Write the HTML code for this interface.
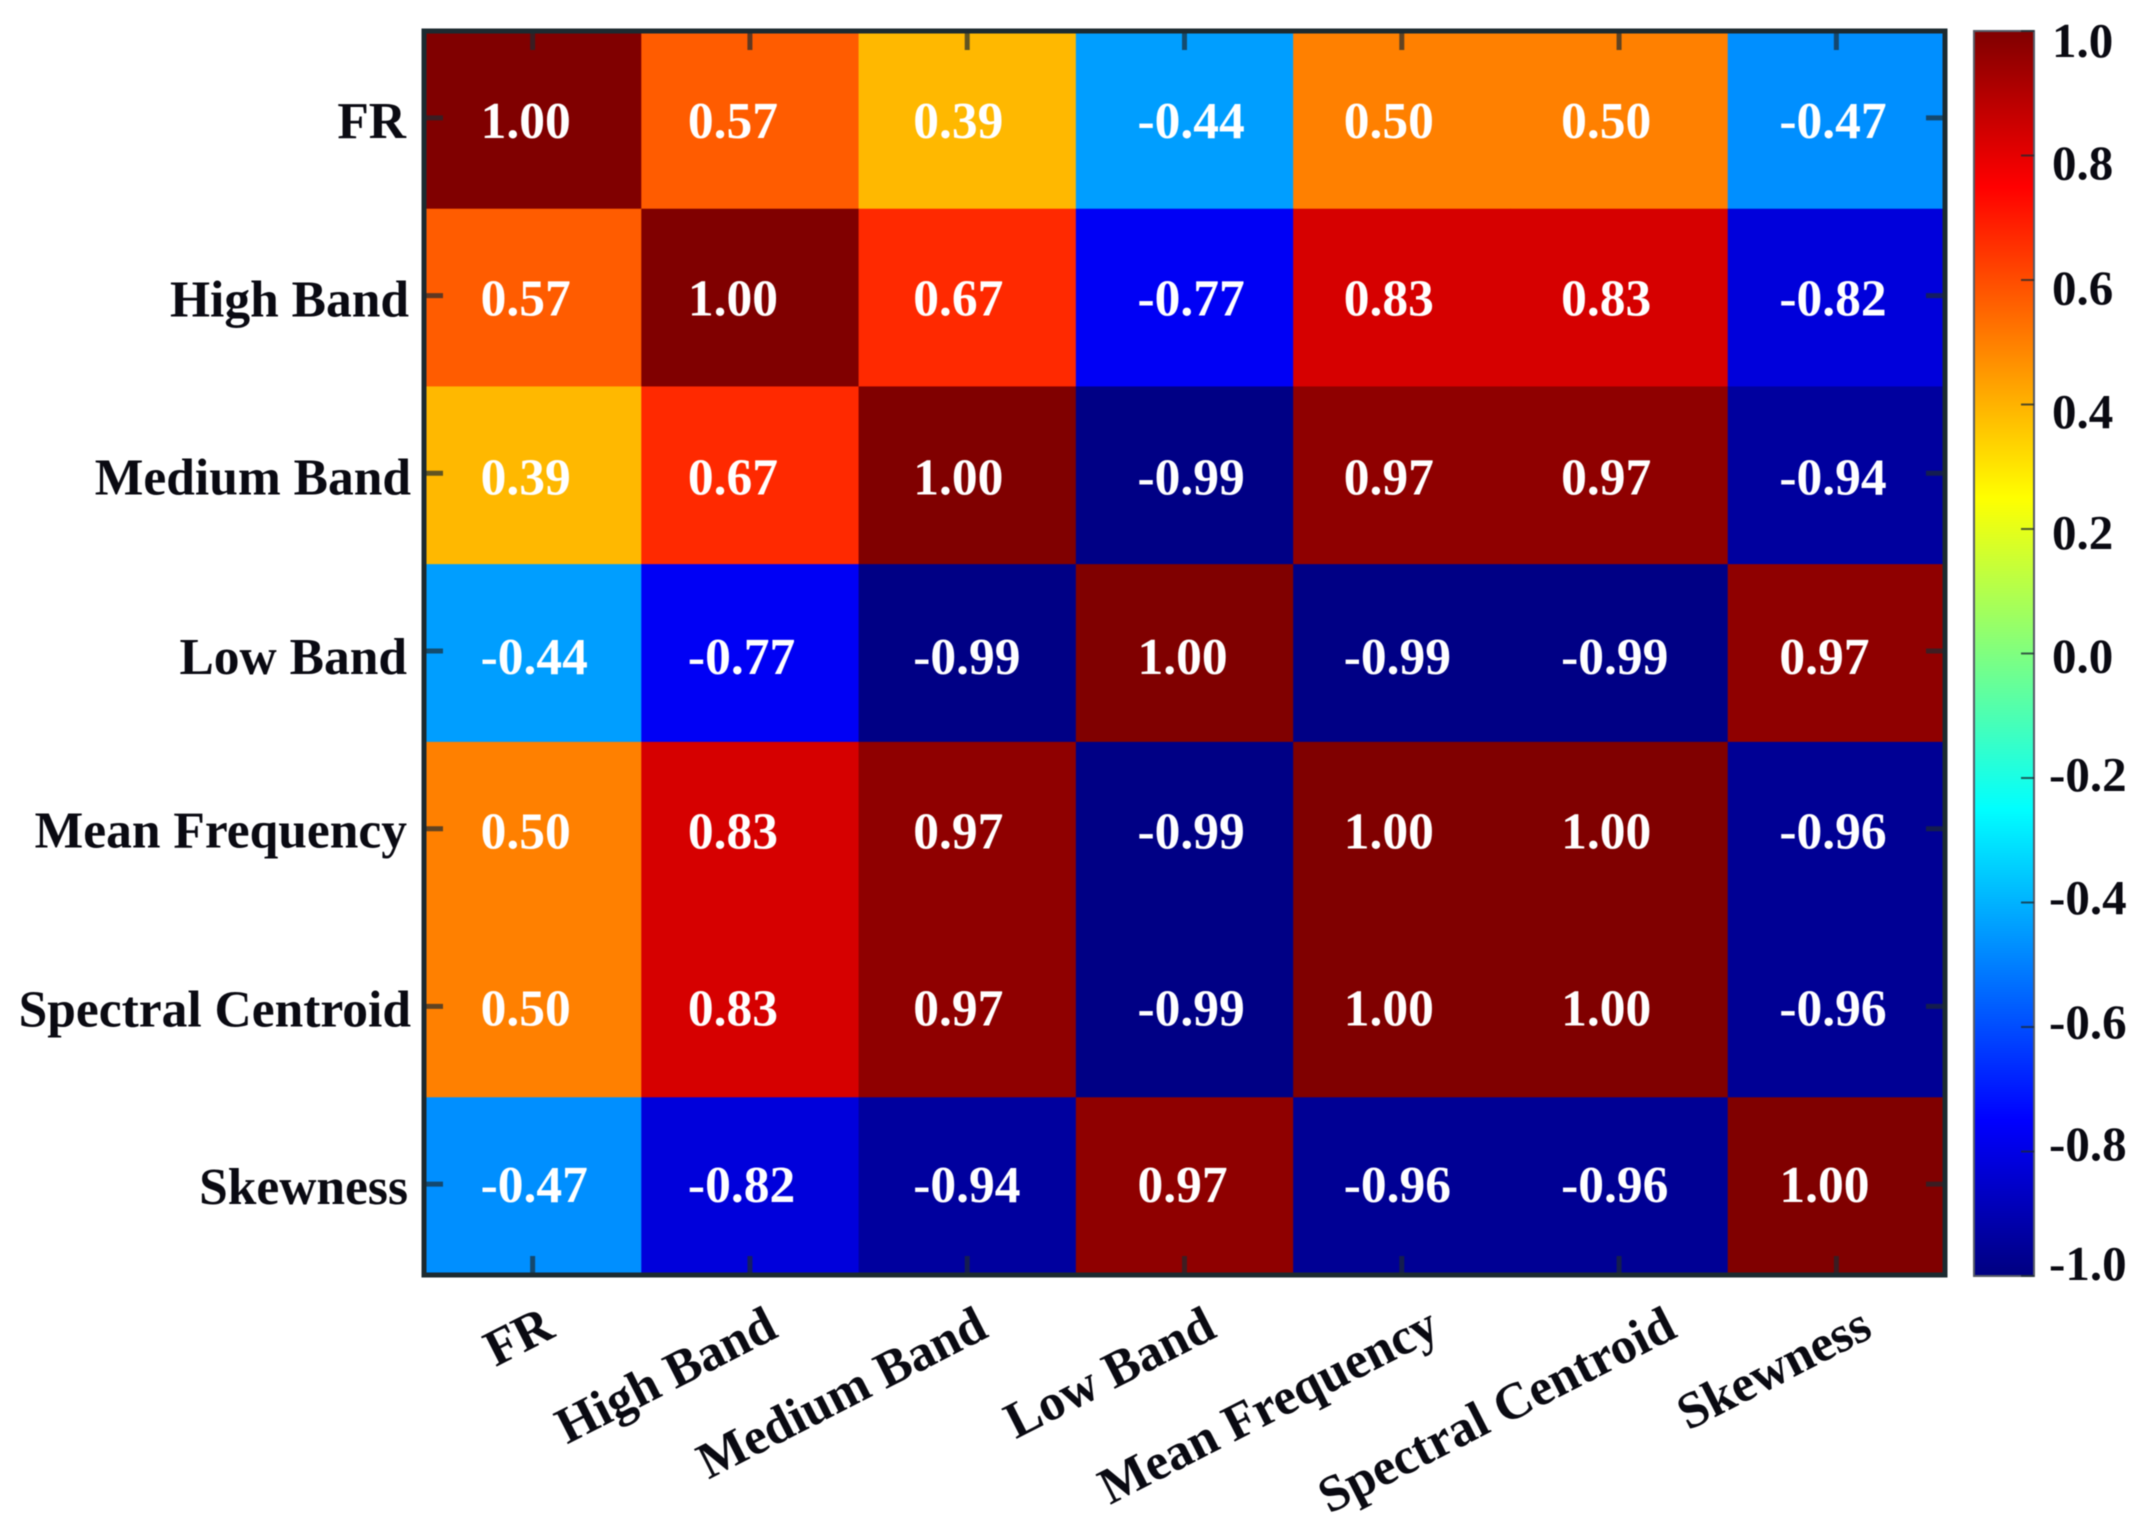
<!DOCTYPE html>
<html lang="en">
<head>
<meta charset="utf-8">
<title>Correlation heatmap</title>
<style>
html,body{margin:0;padding:0;background:#fff;}
svg{display:block;filter:blur(0.6px);}
text{font-family:"Liberation Serif","Times New Roman",serif;font-weight:bold;}
</style>
</head>
<body>
<svg id="chart" xmlns="http://www.w3.org/2000/svg" width="2149" height="1538" viewBox="0 0 2149 1538">
<defs><linearGradient id="jetGradient" x1="0" y1="1" x2="0" y2="0"></linearGradient></defs>
<rect x="0" y="0" width="2149" height="1538" fill="#ffffff"/>
<g id="cells"></g>
<g id="cellText"></g>
<g id="ticks"></g>
<rect x="424" y="31" width="1521" height="1244" fill="none" stroke="#1c2a30" stroke-width="5"/>
<g id="yLabels"></g>
<g id="xLabels"></g>
<g id="colorbar"></g>
</svg>
<script>
// ---- data ----
const categories = ["FR", "High Band", "Medium Band", "Low Band", "Mean Frequency", "Spectral Centroid", "Skewness"];
const rowFR        = [1.00, 0.57, 0.39, -0.44, 0.50, 0.50, -0.47];
const rowHigh      = [0.57, 1.00, 0.67, -0.77, 0.83, 0.83, -0.82];
const rowMedium    = [0.39, 0.67, 1.00, -0.99, 0.97, 0.97, -0.94];
const rowLow       = [-0.44, -0.77, -0.99, 1.00, -0.99, -0.99, 0.97];
const rowMean      = [0.50, 0.83, 0.97, -0.99, 1.00, 1.00, -0.96];
const rowCentroid  = [0.50, 0.83, 0.97, -0.99, 1.00, 1.00, -0.96];
const rowSkewness  = [-0.47, -0.82, -0.94, 0.97, -0.96, -0.96, 1.00];
const matrix = [rowFR, rowHigh, rowMedium, rowLow, rowMean, rowCentroid, rowSkewness];
const colorbarTicks = [1.0, 0.8, 0.6, 0.4, 0.2, 0.0, -0.2, -0.4, -0.6, -0.8, -1.0];

// ---- layout ----
const SVGNS = "http://www.w3.org/2000/svg";
const plot = {left: 424, right: 1945, top: 31, bottom: 1275};
const bar = {left: 1974, right: 2034, top: 31, bottom: 1276};
const cellW = (plot.right - plot.left) / categories.length;
const cellH = (plot.bottom - plot.top) / categories.length;
const xBand = i => plot.left + i * cellW;
const yBand = i => plot.top + i * cellH;
const xCenter = i => xBand(i) + cellW / 2;
const yCenter = i => yBand(i) + cellH / 2;
const barY = v => bar.top + (1 - v) / 2 * (bar.bottom - bar.top);
const barLabelY = v => 41 + (1 - v) / 2 * 1223;

// value -> colour (MATLAB-style jet)
const jetStops = [[0,0,0,0.5],[0.125,0,0,1],[0.375,0,1,1],[0.625,1,1,0],[0.875,1,0,0],[1,0.5,0,0]];
function jet(t) {
  t = Math.max(0, Math.min(1, t));
  for (let i = 1; i < jetStops.length; i++) {
    const a = jetStops[i - 1], b = jetStops[i];
    if (t <= b[0]) {
      const f = (t - a[0]) / (b[0] - a[0]);
      const ch = k => Math.round(255 * (a[k] + (b[k] - a[k]) * f));
      return "rgb(" + ch(1) + "," + ch(2) + "," + ch(3) + ")";
    }
  }
  return "rgb(128,0,0)";
}
const valueColor = v => jet((v + 1) / 2);

function make(tag, attrs, parent, txt) {
  const el = document.createElementNS(SVGNS, tag);
  for (const k in attrs) el.setAttribute(k, attrs[k]);
  if (txt !== undefined) el.textContent = txt;
  parent.appendChild(el);
  return el;
}

// heatmap cells and printed values
const cellsG = document.getElementById("cells");
const cellTextG = document.getElementById("cellText");
const colTextShift = [-52, -62, -54, -47, -58, -58, -57];
const rowTextShift = [-1, -1, 0, 2, -1, -2, -3];
matrix.forEach((row, r) => {
  row.forEach((v, c) => {
    const rect = make("rect", {x: xBand(c), y: yBand(r), width: cellW + 0.5, height: cellH + 0.5, fill: valueColor(v)}, cellsG);
    
    
    const t = make("text", {x: xCenter(c) + colTextShift[c], y: yCenter(r) + 19 + rowTextShift[r], fill: "#ffffff", "font-size": 51.5}, cellTextG, v.toFixed(2));
    
    
  });
});

// ticks on all four sides
const ticksG = document.getElementById("ticks");
const tickLen = 19;
categories.forEach((name, i) => {
  const segs = [
    [xCenter(i), plot.top, xCenter(i), plot.top + tickLen],
    [xCenter(i), plot.bottom, xCenter(i), plot.bottom - tickLen],
    [plot.left, yCenter(i) - 2, plot.left + tickLen, yCenter(i) - 2],
    [plot.right, yCenter(i) - 2, plot.right - tickLen, yCenter(i) - 2]
  ];
  segs.forEach(s => {
    const l = make("line", {x1: s[0], y1: s[1], x2: s[2], y2: s[3], stroke: "#1c2a30", "stroke-width": 5, "stroke-opacity": 0.7}, ticksG);
    
    
  });
});

// y labels
const yLabelsG = document.getElementById("yLabels");
const yLabelRight = [406, 409, 411, 407, 407, 411, 408];
const yLabelShift = [2, 3, 3, 5, 1, 2, 2];
categories.forEach((name, i) => {
  const t = make("text", {x: yLabelRight[i], y: yCenter(i) + 16 + yLabelShift[i], "text-anchor": "end", "font-size": 51.5, fill: "#0a0a12"}, yLabelsG, name);
  
  
});

// x labels (rotated, anchored at their end)
const xLabelsG = document.getElementById("xLabels");
const xLabelShift = [24, 30, 23, 34, 40, 60, 38];
categories.forEach((name, i) => {
  const x = xCenter(i) + xLabelShift[i];
  const y = 1336;
  const t = make("text", {x: x, y: y, "text-anchor": "end", "font-size": 51.5, fill: "#0a0a12", transform: "rotate(-27 " + x + " " + y + ")"}, xLabelsG, name);
  
  
});

// colorbar
const grad = document.getElementById("jetGradient");
jetStops.forEach(s => {
  make("stop", {offset: s[0], "stop-color": jet(s[0])}, grad);
});
const cbG = document.getElementById("colorbar");
const cbRect = make("rect", {x: bar.left, y: bar.top, width: bar.right - bar.left, height: bar.bottom - bar.top, fill: "url(#jetGradient)", stroke: "#555a66", "stroke-width": 2}, cbG);


const barLabelShift = [0, 0, 3, 4, 3, 4, 0, 1, 3, 3, 0];
colorbarTicks.forEach((v, i) => {
  const l = make("line", {x1: bar.right - 13, y1: barY(v), x2: bar.right, y2: barY(v), stroke: "#1c2a30", "stroke-width": 2, "stroke-opacity": 0.75}, cbG);
  
  
  const t = make("text", {x: v < 0 ? 2049 : 2052, y: barLabelY(v) + 16 + barLabelShift[i], "font-size": 49, fill: "#0a0a12"}, cbG, v.toFixed(1));
  
  
});
</script>
</body>
</html>
